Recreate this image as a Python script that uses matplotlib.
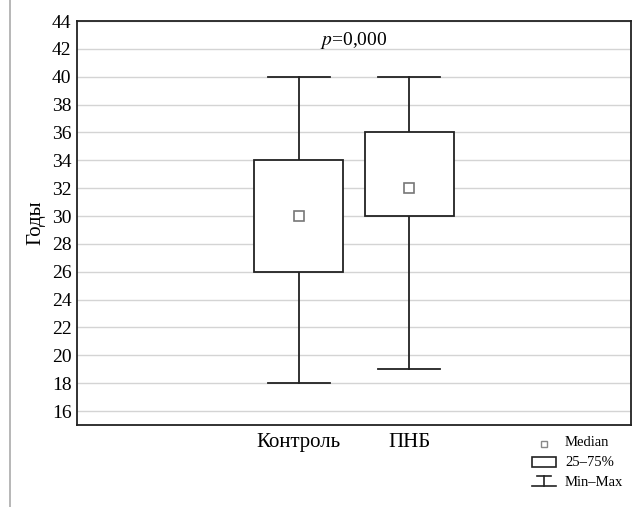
import matplotlib.pyplot as plt
from matplotlib.lines import Line2D
from matplotlib.patches import Rectangle

plt.rcParams['font.family'] = ['Liberation Serif', 'DejaVu Serif']

## Data ---------------------------------------------

groups = ["Контроль", "ПНБ"]
medians = [30, 32]
q1 = [26, 30]
q3 = [34, 36]
mins = [18, 19]
maxs = [40, 40]
yticks = list(range(16, 45, 2))

## Figure -------------------------------------------

fig = plt.figure(figsize=(6.4, 5.07), dpi=100)
ax = fig.add_axes([77 / 640, 1 - 425 / 507, 554 / 640, 404 / 507])

positions = [2, 3]
box_w = 0.8
cap_w = 0.56

for pos, med, lo, hi, mn, mx in zip(positions, medians, q1, q3, mins, maxs):
    ax.add_patch(Rectangle((pos - box_w / 2, lo), box_w, hi - lo,
                           facecolor="white", edgecolor="#222222", lw=1.3, zorder=3))
    ax.plot([pos, pos], [hi, mx], color="#222222", lw=1.3, zorder=2)
    ax.plot([pos, pos], [mn, lo], color="#222222", lw=1.3, zorder=2)
    ax.plot([pos - cap_w / 2, pos + cap_w / 2], [mx, mx], color="#222222", lw=1.3, zorder=2)
    ax.plot([pos - cap_w / 2, pos + cap_w / 2], [mn, mn], color="#222222", lw=1.3, zorder=2)
    ax.plot(pos, med, marker="s", ms=7, mfc="white", mec="#777777", mew=1.2, zorder=4)

ax.set_xlim(0, 5)
ax.set_ylim(15, 44)
ax.set_yticks(yticks)
ax.set_xticks(positions)
ax.set_xticklabels(groups)
ax.tick_params(axis="y", length=0, labelsize=14, colors="black", pad=4)
ax.tick_params(axis="x", length=0, labelsize=15, colors="black", pad=6)
ax.grid(axis="y", color="#d4d4d4", lw=1.0, zorder=0)
ax.set_axisbelow(True)
for s in ax.spines.values():
    s.set_linewidth(1.3)
    s.set_color("#222222")

ax.set_ylabel("Годы", fontsize=15)
ax.yaxis.set_label_coords(-32 / 554, 0.5)
ax.text(2.5, 42.6, "$\\it{p}$=0,000", ha="center", va="center", fontsize=14,
        math_fontfamily="stix")

## Legend (figure coords in pixels) -----------------

def px(x, y):
    return x / 640, 1 - y / 507

fig.add_artist(Line2D([10 / 640, 10 / 640], [0, 1], color="#aaaaaa", lw=1.2))

mx_, my_ = px(544, 444)
fig.add_artist(Line2D([mx_], [my_], marker="s", ms=4.5, mfc="white", mec="#888888", mew=1))
x0, y0 = px(532, 467)
fig.add_artist(Rectangle((x0, y0), 24 / 640, 10 / 507, facecolor="white",
                         edgecolor="#222222", lw=1.2, transform=fig.transFigure))
fig.add_artist(Line2D([537 / 640, 551 / 640], [1 - 476 / 507] * 2, color="#222222", lw=1.2))
fig.add_artist(Line2D([544 / 640] * 2, [1 - 476 / 507, 1 - 486 / 507], color="#222222", lw=1.2))
fig.add_artist(Line2D([532 / 640, 556 / 640], [1 - 486 / 507] * 2, color="#222222", lw=1.2))
for label, y in [("Median", 442), ("25–75%", 462), ("Min–Max", 482)]:
    tx, ty = px(565, y)
    fig.text(tx, ty, label, ha="left", va="center", fontsize=10.5)

fig.savefig("out.png", dpi=100)
